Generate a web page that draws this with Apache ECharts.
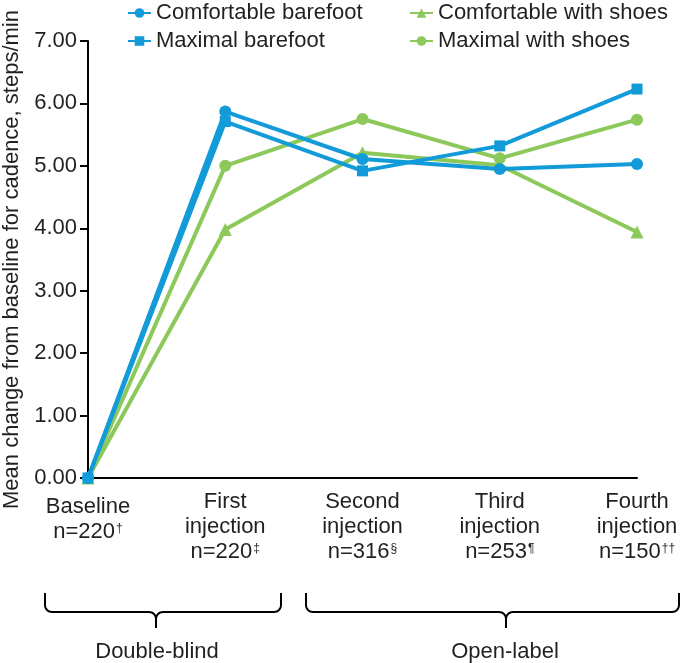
<!DOCTYPE html>
<html><head><meta charset="utf-8">
<script src="https://cdn.jsdelivr.net/npm/echarts@6/dist/echarts.min.js"></script>
<style>html,body{margin:0;padding:0;background:#fff}#c{width:685px;height:663px}</style>
</head><body><div id="c"></div>
<script>
const categories = ['Baseline\nn=220†', 'First\ninjection\nn=220‡', 'Second\ninjection\nn=316§', 'Third\ninjection\nn=253¶', 'Fourth\ninjection\nn=150††'];
const comfortableBarefoot = [0, 5.87, 5.11, 4.95, 5.03];
const maximalBarefoot = [0, 5.71, 4.92, 5.32, 6.23];
const comfortableWithShoes = [0, 3.98, 5.21, 5.01, 3.94];
const maximalWithShoes = [0, 5.00, 5.75, 5.12, 5.74];
const yTicks = [0, 1, 2, 3, 4, 5, 6, 7];
const phaseLabels = ['Double-blind', 'Open-label'];

const BLUE = '#129bd8', GREEN = '#8cc85a', TXT = '#231f20';
const FONT = '"Liberation Sans", Arial, sans-serif';
const chart = echarts.init(document.getElementById('c'), null, {renderer: 'canvas'});

function mk(name, data, color, symbol, size, z) {
  return {name, type: 'line', data, color, symbol, symbolSize: size, z,
    lineStyle: {width: 4, color}, itemStyle: {color}, emphasis: {disabled: true}, animation: false};
}

// decorative curly brace (not data): returns polyline points
function brace(x1, x2, xm, yTop, yMid, yTip, r) {
  const pts = [];
  const arc = (cx, cy, a0, a1) => { for (let i = 0; i <= 8; i++) { const a = a0 + (a1 - a0) * i / 8; pts.push([cx + r * Math.cos(a), cy + r * Math.sin(a)]); } };
  pts.push([x1, yTop]);
  arc(x1 + r, yMid - r, Math.PI, Math.PI / 2);
  arc(xm - r, yMid + r, -Math.PI / 2, 0);
  pts.push([xm, yTip]);
  pts.push([xm, yMid + r]);
  arc(xm + r, yMid + r, Math.PI, 3 * Math.PI / 2);
  arc(x2 - r, yMid - r, Math.PI / 2, 0);
  pts.push([x2, yTop]);
  return pts;
}

// split trailing footnote symbols into superscript rich tokens
function labelFmt(value) {
  return value.split('\n').map(line => {
    const m = line.match(/^(.*?)([†‡§¶]+)$/);
    return m ? '{t|' + m[1] + '}{s|' + m[2] + '}' : '{t|' + line + '}';
  }).join('\n');
}

const legendCommon = {orient: 'vertical', itemWidth: 23, itemHeight: 12, itemGap: 6, padding: 0,
  textStyle: {fontSize: 22, color: TXT, fontFamily: FONT}, top: 2, selectedMode: false};

const xData = categories.map((c, i) => i === 0 ? {value: c, textStyle: {padding: [5, 0, 0, 0]}} : c);

chart.setOption({
  animation: false,
  textStyle: {fontFamily: FONT},
  legend: [
    Object.assign({left: 127, data: ['Comfortable barefoot', 'Maximal barefoot']}, legendCommon),
    Object.assign({left: 409, data: ['Comfortable with shoes', 'Maximal with shoes']}, legendCommon)
  ],
  grid: {left: 88, right: 48, top: 41, bottom: 185, containLabel: false, outerBoundsMode: 'none'},
  xAxis: {type: 'category', data: xData, boundaryGap: false,
    axisLine: {lineStyle: {color: '#000', width: 2}}, axisTick: {show: false},
    axisLabel: {fontSize: 22, color: TXT, lineHeight: 25, margin: 11, interval: 0, fontFamily: FONT,
      verticalAlign: 'top', formatter: labelFmt,
      rich: {t: {fontSize: 22, lineHeight: 25, color: TXT, fontFamily: FONT},
             s: {fontSize: 12, lineHeight: 25, color: TXT, fontFamily: FONT, verticalAlign: 'top', padding: [4, 0, 0, 1]}}}},
  yAxis: {type: 'value', min: 0, max: 7, interval: 1,
    name: 'Mean change from baseline for cadence, steps/min', nameLocation: 'middle', nameGap: 65,
    nameTextStyle: {fontSize: 22, color: TXT, fontFamily: FONT},
    axisLine: {show: true, lineStyle: {color: '#000', width: 2}},
    axisTick: {show: true, length: 8, lineStyle: {color: '#000', width: 2}},
    splitLine: {show: false},
    axisLabel: {fontSize: 22, color: TXT, margin: 11, fontFamily: FONT,
      formatter: v => yTicks.includes(v) ? v.toFixed(2) : ''}},
  series: [
    mk('Comfortable with shoes', comfortableWithShoes, GREEN, 'triangle', 13, 2),
    mk('Maximal with shoes', maximalWithShoes, GREEN, 'circle', 12, 3),
    mk('Maximal barefoot', maximalBarefoot, BLUE, 'rect', 11, 4),
    mk('Comfortable barefoot', comfortableBarefoot, BLUE, 'circle', 12, 5)
  ],
  graphic: [
    {type: 'polyline', shape: {points: brace(45, 281, 156, 593, 612, 628, 7)}, style: {stroke: '#000', lineWidth: 2, fill: null}},
    {type: 'polyline', shape: {points: brace(306, 679, 506, 593, 612, 628, 7)}, style: {stroke: '#000', lineWidth: 2, fill: null}},
    {type: 'text', x: 157, y: 652, style: {text: phaseLabels[0], font: '22px "Liberation Sans", Arial, sans-serif', fill: TXT, textAlign: 'center', textVerticalAlign: 'middle'}},
    {type: 'text', x: 505, y: 652, style: {text: phaseLabels[1], font: '22px "Liberation Sans", Arial, sans-serif', fill: TXT, textAlign: 'center', textVerticalAlign: 'middle'}}
  ]
});
</script></body></html>
